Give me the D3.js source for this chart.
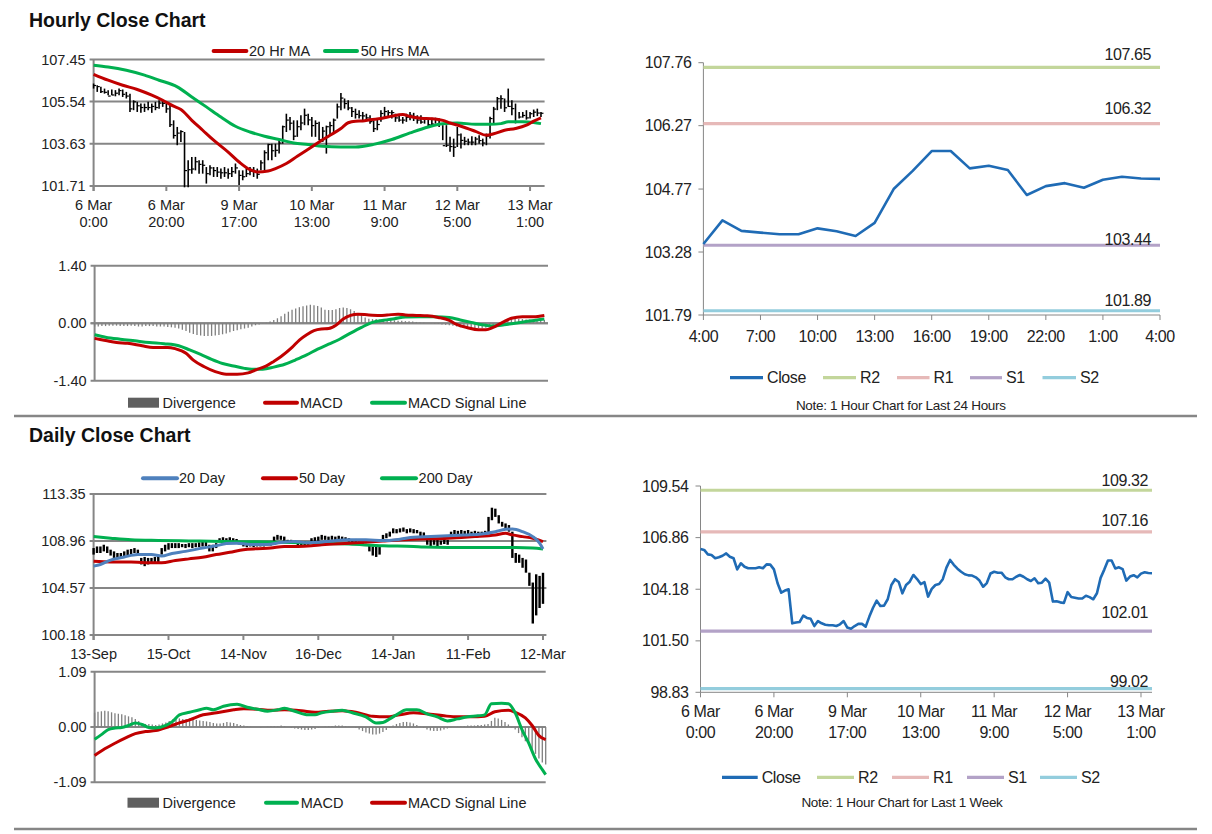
<!DOCTYPE html>
<html>
<head>
<meta charset="utf-8">
<script src="https://cdn.jsdelivr.net/npm/d3@7"></script>
<style>
body { margin: 0; background: #fff; }
text { font-family: "Liberation Sans", Arial, sans-serif; fill: #222; }
.lt { font-size: 14.5px; }
.rt { font-size: 16px; letter-spacing: -0.4px; }
.note { font-size: 13.5px; letter-spacing: -0.3px; }
.title { font-size: 19.5px; font-weight: bold; fill: #111; }
</style>
</head>
<body>
<svg id="chart" width="1212" height="834"></svg>
<script>
// ---- hourly data (last week, 1 hour bars) ----
const hourTickIndex = [0, 20, 40, 60, 80, 100, 120];
const hourTickLabels = [["6 Mar", "0:00"], ["6 Mar", "20:00"], ["9 Mar", "17:00"], ["10 Mar", "13:00"],
                        ["11 Mar", "9:00"], ["12 Mar", "5:00"], ["13 Mar", "1:00"]];

const hourClose = [
  106.27, 106.22, 105.99, 105.96, 105.79, 105.84, 105.92, 106.04, 105.87, 105.79,
  105.21, 105.53, 105.35, 105.27, 105.27, 105.27, 105.32, 105.27, 105.47, 105.46,
  105.21, 104.49, 104.00, 104.11, 104.18, 102.41, 102.45, 102.48, 102.81, 102.69,
  102.65, 102.27, 102.53, 102.41, 102.34, 102.31, 102.31, 102.27, 102.36, 102.53,
  102.19, 102.13, 102.27, 102.38, 102.38, 102.24, 102.76, 103.22, 103.59, 103.31,
  103.33, 103.66, 104.40, 104.70, 104.56, 103.97, 104.40, 104.57, 104.92, 104.71,
  104.45, 104.55, 103.80, 104.20, 104.40, 104.45, 104.70, 105.30, 105.70, 105.45,
  105.25, 105.09, 104.96, 104.90, 104.89, 104.80, 104.63, 104.31, 104.50, 105.00,
  105.09, 105.04, 105.04, 104.80, 104.70, 104.70, 104.83, 104.92, 104.83, 104.70,
  104.61, 104.75, 104.49, 104.52, 104.73, 104.52, 103.54, 103.56, 103.50, 103.47,
  104.03, 103.78, 103.74, 103.70, 103.70, 103.84, 103.77, 103.66, 103.97, 104.77,
  105.20, 105.67, 105.67, 105.26, 105.32, 105.22, 104.63, 104.84, 104.91, 104.80,
  104.99, 105.06, 105.02, 105.01
];
const hourHigh = [
  106.36, 106.28, 106.21, 106.13, 106.06, 106.09, 106.06, 106.13, 106.09, 105.98,
  105.90, 105.60, 105.53, 105.45, 105.45, 105.53, 105.45, 105.53, 105.60, 105.60,
  105.53, 105.45, 104.69, 104.39, 104.24, 104.16, 102.88, 103.03, 103.03, 102.88,
  102.88, 102.57, 102.65, 102.57, 102.57, 102.50, 102.57, 102.50, 102.57, 102.73,
  102.42, 102.42, 102.50, 102.57, 102.57, 102.50, 102.88, 103.33, 103.63, 103.63,
  103.63, 103.79, 104.45, 104.99, 104.84, 104.69, 104.69, 104.92, 105.22, 104.99,
  104.84, 104.69, 104.62, 104.39, 104.45, 104.62, 104.77, 105.45, 105.93, 105.68,
  105.60, 105.30, 105.22, 105.15, 105.07, 104.99, 104.92, 104.69, 104.77, 105.15,
  105.30, 105.15, 105.15, 104.99, 104.92, 104.84, 104.99, 105.07, 105.03, 104.92,
  104.92, 104.84, 104.77, 104.81, 104.81, 104.77, 104.47, 104.47, 103.94, 103.86,
  104.39, 104.09, 103.94, 103.86, 103.97, 103.94, 104.01, 103.86, 104.09, 104.85,
  105.30, 105.75, 105.83, 105.68, 106.13, 105.60, 105.45, 105.07, 105.07, 105.15,
  105.07, 105.18, 105.22, 105.07
];
const hourLow = [
  106.13, 105.98, 105.93, 105.90, 105.83, 105.83, 105.78, 105.83, 105.75, 105.68,
  105.07, 105.15, 105.07, 105.03, 105.07, 105.15, 105.03, 105.15, 105.22, 105.30,
  105.03, 104.39, 103.86, 103.56, 103.71, 101.65, 101.65, 102.27, 102.42, 102.27,
  102.27, 101.82, 102.20, 102.12, 102.12, 102.04, 102.12, 102.04, 102.12, 102.27,
  101.75, 101.97, 102.12, 102.20, 102.12, 102.04, 102.42, 102.42, 102.88, 102.88,
  103.03, 103.18, 103.63, 104.16, 104.24, 103.79, 103.94, 104.24, 104.47, 104.47,
  103.94, 103.94, 103.79, 103.71, 103.18, 104.01, 104.16, 104.77, 105.15, 105.22,
  105.15, 104.84, 104.77, 104.77, 104.69, 104.69, 104.54, 104.16, 104.24, 104.62,
  104.84, 104.84, 104.77, 104.62, 104.62, 104.54, 104.62, 104.69, 104.66, 104.54,
  104.54, 104.54, 104.40, 104.47, 104.54, 104.39, 103.79, 103.48, 103.26, 103.03,
  103.48, 103.41, 103.56, 103.56, 103.56, 103.56, 103.63, 103.51, 103.56, 103.86,
  104.54, 105.15, 105.22, 105.07, 105.30, 104.92, 104.55, 104.77, 104.81, 104.72,
  104.77, 104.84, 104.88, 104.84
];
// moving averages as [hour index, value]
const hourMA20 = [[0,106.78],[4,106.51],[8,106.28],[12,106.09],[16,105.83],[19,105.60],[22,105.33],[24,105.18],
  [27,104.69],[30,104.24],[33,103.79],[37,103.25],[40,102.80],[43,102.45],[45,102.35],[48,102.39],[50,102.50],
  [53,102.73],[56,103.06],[59,103.38],[62,103.71],[65,104.01],[68,104.32],[70,104.58],[72,104.65],[74,104.66],
  [76,104.72],[79,104.77],[82,104.88],[85,104.95],[87,104.86],[90,104.78],[93,104.76],[96,104.69],[98,104.57],
  [101,104.42],[105,104.19],[108,104.01],[110,104.08],[113,104.24],[116,104.32],[119,104.47],[121,104.65],[123,104.80]];
const hourMA50 = [[0,107.19],[4,107.11],[9,106.96],[14,106.74],[18,106.51],[23,106.21],[27,105.75],[31,105.30],
  [35,104.84],[39,104.42],[43,104.16],[47,103.97],[51,103.82],[55,103.66],[59,103.59],[63,103.51],[68,103.48],
  [72,103.48],[77,103.60],[82,103.82],[87,104.12],[92,104.39],[96,104.54],[100,104.57],[105,104.51],[109,104.51],
  [112,104.54],[114,104.62],[118,104.62],[121,104.59],[123,104.54]];
const hourMacd = [[0,-0.37],[3,-0.42],[6,-0.47],[9,-0.49],[13,-0.55],[16,-0.59],[20,-0.59],[22,-0.62],[25,-0.73],
  [27,-0.90],[30,-1.06],[33,-1.18],[36,-1.24],[39,-1.24],[42,-1.21],[44,-1.14],[47,-1.04],[49,-0.93],[51,-0.81],
  [54,-0.59],[56,-0.41],[58,-0.28],[60,-0.18],[62,-0.14],[64,-0.13],[66,-0.05],[68,0.10],[70,0.19],[72,0.22],
  [75,0.20],[78,0.19],[80,0.20],[83,0.22],[85,0.20],[88,0.19],[91,0.18],[94,0.14],[97,0.07],[99,-0.03],
  [102,-0.11],[105,-0.16],[107,-0.16],[109,-0.10],[112,0.04],[114,0.12],[117,0.16],[120,0.16],[123,0.19]];
const hourSignal = [[0,-0.28],[3,-0.34],[7,-0.39],[11,-0.43],[15,-0.47],[19,-0.50],[23,-0.55],[26,-0.65],[29,-0.76],
  [32,-0.88],[35,-0.98],[38,-1.04],[41,-1.10],[43,-1.12],[46,-1.12],[49,-1.07],[52,-1.00],[55,-0.89],[58,-0.77],
  [61,-0.63],[64,-0.51],[67,-0.39],[70,-0.24],[73,-0.10],[76,0.02],[79,0.07],[82,0.11],[85,0.15],[89,0.16],
  [93,0.16],[97,0.14],[100,0.08],[103,0.02],[106,-0.04],[109,-0.07],[112,-0.04],[115,0.00],[118,0.04],[121,0.08],[123,0.10]];
const hourDiv = [
  -0.08, -0.08, -0.07, -0.07, -0.06, -0.06, -0.06, -0.07, -0.07, -0.07,
  -0.06, -0.07, -0.08, -0.08, -0.07, -0.07, -0.07, -0.08, -0.08, -0.08,
  -0.09, -0.10, -0.11, -0.13, -0.16, -0.19, -0.23, -0.26, -0.29, -0.30,
  -0.31, -0.31, -0.31, -0.30, -0.29, -0.27, -0.25, -0.22, -0.19, -0.17,
  -0.15, -0.13, -0.11, -0.08, -0.05, -0.03, -0.01, 0.01, 0.04, 0.08,
  0.12, 0.17, 0.23, 0.28, 0.33, 0.36, 0.39, 0.41, 0.43, 0.45,
  0.44, 0.42, 0.38, 0.33, 0.32, 0.32, 0.34, 0.37, 0.38, 0.37,
  0.34, 0.30, 0.25, 0.19, 0.14, 0.11, 0.10, 0.10, 0.09, 0.09,
  0.08, 0.08, 0.07, 0.06, 0.06, 0.05, 0.05, 0.04, 0.03, 0.02,
  0.01, 0.00, -0.01, -0.02, -0.02, -0.03, -0.04, -0.05, -0.06, -0.08,
  -0.10, -0.11, -0.12, -0.12, -0.12, -0.12, -0.12, -0.11, -0.09, -0.07,
  -0.03, 0.02, 0.06, 0.08, 0.10, 0.10, 0.10, 0.10, 0.09, 0.09,
  0.08, 0.08, 0.08, 0.08
];

// ---- daily data ----
const dayTickIndex = [0, 22, 44, 66, 88, 110, 132];
const dayTickLabels = ["13-Sep", "15-Oct", "14-Nov", "16-Dec", "14-Jan", "11-Feb", "12-Mar"];
const dayHigh = [
  108.30, 108.45, 108.45, 108.61, 108.45, 108.15, 107.99, 107.84, 107.84, 107.99,
  108.15, 108.21, 108.30, 108.15, 107.38, 107.47, 107.38, 107.38, 107.47, 107.60,
  108.30, 108.61, 108.76, 108.76, 108.76, 108.76, 108.68, 108.68, 108.76, 108.76,
  108.76, 108.83, 108.91, 108.91, 108.61, 108.61, 108.76, 109.22, 109.31, 109.22,
  109.31, 109.22, 109.15, 108.91, 108.76, 108.68, 108.76, 108.68, 108.76, 108.68,
  108.76, 108.83, 108.76, 109.37, 109.53, 109.45, 109.37, 109.07, 109.07, 109.00,
  108.91, 108.83, 108.91, 108.76, 109.22, 109.31, 109.37, 109.53, 109.45, 109.37,
  109.45, 109.37, 109.45, 109.37, 109.31, 109.22, 109.07, 109.15, 109.07, 108.99,
  109.07, 108.61, 108.45, 108.61, 108.45, 109.53, 109.68, 109.83, 110.14, 110.07,
  110.14, 110.22, 110.07, 110.14, 110.07, 109.99, 109.83, 109.76, 109.22, 109.07,
  109.15, 109.07, 108.99, 109.15, 109.07, 109.83, 109.99, 109.91, 109.99, 109.91,
  109.99, 109.83, 109.91, 109.83, 109.83, 109.91, 111.21, 112.07, 111.98, 111.37,
  110.75, 110.60, 110.45, 109.83, 107.84, 107.69, 107.38, 107.23, 106.00, 105.08,
  105.85, 105.70, 105.99
];
const dayLow = [
  107.69, 107.84, 107.84, 107.99, 107.84, 107.60, 107.38, 107.38, 107.47, 107.47,
  107.60, 107.69, 107.84, 107.69, 106.77, 106.61, 106.77, 106.92, 106.92, 107.00,
  107.69, 107.99, 108.15, 108.30, 108.30, 108.30, 108.38, 108.30, 108.38, 108.30,
  108.38, 108.38, 108.45, 108.45, 107.99, 107.99, 108.30, 108.91, 108.91, 108.91,
  108.83, 108.91, 108.83, 108.61, 108.45, 108.38, 108.45, 108.38, 108.45, 108.45,
  108.45, 108.53, 108.53, 108.91, 109.07, 109.07, 108.91, 108.76, 108.76, 108.68,
  108.45, 108.45, 108.53, 108.45, 108.76, 108.91, 108.91, 109.07, 109.07, 108.99,
  109.07, 108.99, 109.07, 108.99, 108.99, 108.91, 108.76, 108.76, 108.76, 108.68,
  108.76, 107.99, 107.60, 107.47, 107.69, 109.07, 109.22, 109.37, 109.68, 109.68,
  109.76, 109.83, 109.68, 109.76, 109.68, 109.68, 109.37, 109.37, 108.61, 108.45,
  108.61, 108.45, 108.61, 108.68, 108.61, 109.37, 109.53, 109.53, 109.60, 109.53,
  109.60, 109.53, 109.53, 109.45, 109.53, 109.53, 109.68, 110.90, 111.21, 110.60,
  110.30, 110.14, 109.83, 107.38, 106.92, 106.92, 106.46, 106.00, 104.77, 101.25,
  102.01, 102.70, 103.09
];
const day20 = [[0,106.61],[2,106.77],[5,107.17],[9,107.47],[13,107.69],[17,107.69],[20,107.56],[23,107.80],
  [27,107.99],[32,108.30],[36,108.51],[39,108.72],[42,108.76],[46,108.63],[51,108.63],[55,108.82],[59,108.91],
  [63,108.80],[66,108.84],[70,108.97],[75,109.07],[80,109.07],[85,109.00],[90,109.13],[94,109.31],[99,109.37],
  [104,109.44],[109,109.53],[114,109.62],[118,109.83],[121,110.05],[123,110.08],[126,109.83],[129,109.37],
  [131,108.76],[132,108.21]];
const day50 = [[0,107.07],[5,107.01],[11,107.01],[15,106.92],[20,106.92],[24,107.13],[28,107.29],[32,107.44],
  [36,107.69],[40,107.90],[44,108.15],[48,108.24],[52,108.30],[56,108.45],[60,108.45],[64,108.51],[67,108.61],
  [75,108.76],[85,108.97],[94,109.13],[104,109.22],[112,109.37],[118,109.53],[121,109.68],[123,109.53],
  [126,109.37],[129,109.22],[132,108.91]];
const day200 = [[0,109.37],[5,109.22],[11,109.07],[19,109.01],[28,108.97],[38,108.91],[48,108.88],[58,108.82],
  [66,108.76],[75,108.67],[85,108.51],[94,108.45],[97,108.39],[104,108.36],[114,108.36],[124,108.36],
  [129,108.30],[132,108.21]];
const dayMacd = [[0,-0.24],[2,-0.15],[4,-0.05],[6,-0.02],[8,-0.01],[10,0.03],[12,0.08],[14,0.05],[16,-0.01],
  [18,-0.02],[21,0.03],[23,0.11],[25,0.24],[28,0.29],[31,0.34],[33,0.37],[35,0.34],[38,0.41],[42,0.45],[45,0.39],
  [48,0.35],[51,0.31],[54,0.34],[56,0.37],[59,0.31],[63,0.24],[65,0.24],[67,0.28],[70,0.31],[73,0.33],[76,0.28],
  [80,0.20],[83,0.08],[85,0.09],[87,0.16],[89,0.24],[92,0.34],[95,0.34],[98,0.26],[101,0.20],[104,0.12],
  [107,0.16],[110,0.20],[113,0.22],[115,0.24],[117,0.46],[120,0.47],[122,0.46],[124,0.28],[126,-0.05],
  [128,-0.32],[130,-0.63],[132,-0.84],[133,-0.94]];
const daySignal = [[0,-0.56],[3,-0.43],[6,-0.32],[9,-0.22],[12,-0.13],[15,-0.09],[18,-0.07],[22,0.01],[25,0.08],
  [28,0.14],[32,0.24],[36,0.28],[41,0.34],[44,0.36],[48,0.35],[52,0.33],[56,0.34],[61,0.32],[65,0.29],[69,0.31],
  [73,0.32],[77,0.29],[82,0.21],[86,0.20],[90,0.24],[94,0.28],[98,0.26],[103,0.22],[107,0.20],[111,0.20],
  [115,0.21],[118,0.30],[122,0.33],[124,0.29],[127,0.18],[129,0.03],[131,-0.17],[133,-0.25]];
const dayDiv = [
  0.28, 0.30, 0.31, 0.32, 0.31, 0.29, 0.27, 0.26, 0.25, 0.23,
  0.21, 0.19, 0.16, 0.12, 0.07, 0.06, 0.06, 0.05, 0.04, 0.05,
  0.07, 0.09, 0.12, 0.15, 0.16, 0.17, 0.16, 0.16, 0.17, 0.16,
  0.14, 0.13, 0.12, 0.11, 0.10, 0.08, 0.07, 0.07, 0.08, 0.10,
  0.09, 0.08, 0.06, 0.04, 0.03, 0.02, 0.01, 0.00, 0.00, -0.01,
  0.00, 0.01, 0.02, 0.02, 0.02, 0.03, 0.02, 0.00, -0.02, -0.03,
  -0.04, -0.05, -0.06, -0.06, -0.05, -0.04, -0.02, 0.00, 0.01, 0.02,
  0.02, 0.03, 0.03, 0.03, 0.02, 0.01, 0.00, -0.02, -0.05, -0.08,
  -0.11, -0.13, -0.15, -0.15, -0.13, -0.10, -0.06, -0.02, 0.03, 0.06,
  0.08, 0.10, 0.10, 0.09, 0.07, 0.04, 0.01, -0.02, -0.05, -0.07,
  -0.08, -0.08, -0.07, -0.05, -0.03, -0.01, 0.00, 0.01, 0.02, 0.02,
  0.03, 0.03, 0.03, 0.04, 0.04, 0.05, 0.06, 0.12, 0.18, 0.17,
  0.14, 0.10, 0.05, -0.01, -0.05, -0.12, -0.20, -0.28, -0.36, -0.44,
  -0.53, -0.62, -0.70, -0.74
];

// ---- pivot levels ----
const levelNames = ["R2", "R1", "S1", "S2"];
const levels24h = [107.65, 106.32, 103.44, 101.89];
const levelsWeek = [109.32, 107.16, 102.01, 99.02];
const last24Start = 99;   // first hour of the 24h window inside hourClose
const last24Labels = ["4:00", "7:00", "10:00", "13:00", "16:00", "19:00", "22:00", "1:00", "4:00"];

// ---- axis ticks ----
const hourPriceTicks = [101.71, 103.63, 105.54, 107.45];
const hourMacdTicks = [-1.40, 0.00, 1.40];
const dayPriceTicks = [100.18, 104.57, 108.96, 113.35];
const dayMacdTicks = [-1.09, 0.00, 1.09];
const ticks24h = [101.79, 103.28, 104.77, 106.27, 107.76];
const ticksWeek = [98.83, 101.50, 104.18, 106.86, 109.54];

// ---- styling ----
const GRID = "#868686";
const RED = "#c00000", GREEN = "#00b050", BLUE = "#4f81bd", CLOSE = "#1f6bb5";
const levelColors = ["#c3d69b", "#e6b9b8", "#b3a2c7", "#93cddd"];

const svg = d3.select("#chart");
svg.append("rect").attr("width", 1212).attr("height", 834).attr("fill", "#fff");

const smooth = (x, y) => d3.line().x(d => x(d[0])).y(d => y(d[1])).curve(d3.curveMonotoneX);

// frame with gray gridlines used by the left hand charts
function leftFrame(o) {
  const x = d3.scaleLinear().domain(o.xDomain).range([o.x0, o.x1]);
  const y = d3.scaleLinear().domain(d3.extent(o.ticks)).range([o.yb, o.yt]);
  const g = svg.append("g");
  g.selectAll("line.grid").data(o.ticks).join("line")
    .attr("x1", o.x0 - 4).attr("x2", o.x1)
    .attr("y1", d => y(d)).attr("y2", d => y(d))
    .attr("stroke", GRID).attr("stroke-width", 2);
  if (o.zero) {
    g.append("line").attr("x1", o.x0 - 4).attr("x2", o.x1).attr("y1", y(0)).attr("y2", y(0))
      .attr("stroke", GRID).attr("stroke-width", 2);
  }
  g.append("line").attr("x1", o.x0).attr("x2", o.x0).attr("y1", o.yt).attr("y2", o.yb + (o.xTicks ? 5 : 0))
    .attr("stroke", GRID).attr("stroke-width", 2);
  g.selectAll("text.yl").data(o.ticks).join("text")
    .attr("class", "lt").attr("x", o.x0 - 8).attr("y", d => y(d)).attr("dy", "0.35em")
    .attr("text-anchor", "end").text(d => d.toFixed(2));
  if (o.xTicks) {
    g.selectAll("line.xt").data(o.xTicks).join("line")
      .attr("x1", d => x(d)).attr("x2", d => x(d)).attr("y1", o.yb).attr("y2", o.yb + 5)
      .attr("stroke", GRID).attr("stroke-width", 2);
    o.xTicks.forEach((t, i) => {
      const lab = [].concat(o.xLabels[i]);
      lab.forEach((s, j) => g.append("text").attr("class", "lt")
        .attr("x", x(t)).attr("y", o.yb + 24 + j * 17).attr("text-anchor", "middle").text(s));
    });
  }
  return { x, y, g };
}

function ohlcBars(f, hi, lo, close, w) {
  f.g.selectAll("line.bar").data(hi).join("line")
    .attr("x1", (d, i) => f.x(i)).attr("x2", (d, i) => f.x(i))
    .attr("y1", d => f.y(d)).attr("y2", (d, i) => f.y(lo[i]))
    .attr("stroke", "#000").attr("stroke-width", w);
  if (close) {
    f.g.selectAll("line.cl").data(close).join("line")
      .attr("x1", (d, i) => f.x(i)).attr("x2", (d, i) => f.x(i) + 2.5)
      .attr("y1", d => f.y(d)).attr("y2", d => f.y(d))
      .attr("stroke", "#000").attr("stroke-width", 1.2);
  }
}

function series(f, pts, color, w) {
  f.g.append("path").datum(pts).attr("d", smooth(f.x, f.y))
    .attr("fill", "none").attr("stroke", color).attr("stroke-width", w || 3).attr("stroke-linejoin", "round");
}

function divergence(f, vals) {
  f.g.selectAll("line.dv").data(vals).join("line")
    .attr("x1", (d, i) => f.x(i)).attr("x2", (d, i) => f.x(i))
    .attr("y1", f.y(0)).attr("y2", d => f.y(d))
    .attr("stroke", "#7f7f7f").attr("stroke-width", 1.3);
}

function legend(items, yc, cls) {
  const g = svg.append("g");
  items.forEach(it => {
    if (it.rect) {
      g.append("rect").attr("x", it.a).attr("y", yc - 5).attr("width", it.b - it.a).attr("height", 10).attr("fill", "#5f5f5f");
    } else {
      g.append("line").attr("x1", it.a).attr("x2", it.b).attr("y1", yc).attr("y2", yc)
        .attr("stroke", it.color).attr("stroke-width", 4).attr("stroke-linecap", "round");
    }
    g.append("text").attr("class", cls).attr("x", it.t).attr("y", yc).attr("dy", "0.35em").text(it.label);
  });
}

// ================= Hourly close chart =================
svg.append("text").attr("class", "title").attr("x", 29).attr("y", 27).text("Hourly Close Chart");

const hp = leftFrame({ xDomain: [0, 124], x0: 93.6, x1: 544.6, yt: 59.5, yb: 186,
  ticks: hourPriceTicks, xTicks: hourTickIndex, xLabels: hourTickLabels });
ohlcBars(hp, hourHigh, hourLow, hourClose, 1.6);
series(hp, hourMA50, GREEN);
series(hp, hourMA20, RED);
legend([{ a: 213.6, b: 246.4, t: 249, color: RED, label: "20 Hr MA" },
        { a: 325, b: 357, t: 360.7, color: GREEN, label: "50 Hrs MA" }], 51, "lt");

const hm = leftFrame({ xDomain: [0, 124], x0: 94.6, x1: 548, yt: 265.7, yb: 380.7, ticks: hourMacdTicks, zero: true });
divergence(hm, hourDiv);
series(hm, hourSignal, GREEN);
series(hm, hourMacd, RED);
legend([{ rect: true, a: 128, b: 159, t: 162.5, label: "Divergence" },
        { a: 265, b: 297, t: 300, color: RED, label: "MACD" },
        { a: 372, b: 405, t: 408, color: GREEN, label: "MACD Signal Line" }], 402.7, "lt");

// ================= Daily close chart =================
svg.append("text").attr("class", "title").attr("x", 29).attr("y", 442).text("Daily Close Chart");

const dp = leftFrame({ xDomain: [0, 133], x0: 93.6, x1: 546.4, yt: 494, yb: 635,
  ticks: dayPriceTicks, xTicks: dayTickIndex, xLabels: dayTickLabels });
ohlcBars(dp, dayHigh, dayLow, null, 2.4);
series(dp, day200, GREEN);
series(dp, day50, RED);
series(dp, day20, BLUE);
legend([{ a: 143, b: 177, t: 179, color: BLUE, label: "20 Day" },
        { a: 263, b: 296, t: 299, color: RED, label: "50 Day" },
        { a: 382, b: 416, t: 418.6, color: GREEN, label: "200 Day" }], 478.3, "lt");

const dm = leftFrame({ xDomain: [0, 133], x0: 94.6, x1: 545.7, yt: 671.7, yb: 782.3, ticks: dayMacdTicks, zero: true });
divergence(dm, dayDiv);
series(dm, daySignal, RED);
series(dm, dayMacd, GREEN);
legend([{ rect: true, a: 127.5, b: 159, t: 162.5, label: "Divergence" },
        { a: 266, b: 297, t: 300.7, color: GREEN, label: "MACD" },
        { a: 372, b: 405, t: 408, color: RED, label: "MACD Signal Line" }], 802.7, "lt");

// ================= Right hand pivot charts =================
function pivotChart(o) {
  const x = d3.scaleLinear().domain(o.xDomain).range([o.x0, o.x1]);
  const y = d3.scaleLinear().domain(d3.extent(o.ticks)).range([o.yb, o.yt]);
  const g = svg.append("g");
  g.append("line").attr("x1", o.x0).attr("x2", o.x0).attr("y1", o.yt).attr("y2", o.yb).attr("stroke", GRID);
  g.append("line").attr("x1", o.x0).attr("x2", o.x1).attr("y1", o.yb).attr("y2", o.yb).attr("stroke", GRID);
  g.selectAll("line.yt").data(o.ticks).join("line")
    .attr("x1", o.x0 - 5).attr("x2", o.x0).attr("y1", d => y(d)).attr("y2", d => y(d)).attr("stroke", GRID);
  g.selectAll("text.yl").data(o.ticks).join("text").attr("class", "rt")
    .attr("x", o.x0 - 12).attr("y", d => y(d)).attr("dy", "0.35em").attr("text-anchor", "end").text(d => d.toFixed(2));
  g.selectAll("line.xt").data(o.xTicks).join("line")
    .attr("x1", d => x(d)).attr("x2", d => x(d)).attr("y1", o.yb).attr("y2", o.yb + 5).attr("stroke", GRID);
  o.xTicks.forEach((t, i) => {
    [].concat(o.xLabels[i]).forEach((s, j) => g.append("text").attr("class", "rt")
      .attr("x", x(t)).attr("y", o.yb + o.labelGap + j * 20.5).attr("text-anchor", "middle").text(s));
  });
  // pivot levels
  o.levels.forEach((v, i) => {
    g.append("line").attr("x1", o.x0).attr("x2", o.x1).attr("y1", y(v)).attr("y2", y(v))
      .attr("stroke", levelColors[i]).attr("stroke-width", 3.2);
  });
  g.append("path").datum(o.close)
    .attr("d", d3.line().x((d, i) => x(i)).y(d => y(d)))
    .attr("fill", "none").attr("stroke", CLOSE).attr("stroke-width", 2.6).attr("stroke-linejoin", "round");
  o.levels.forEach((v, i) => {
    g.append("text").attr("class", "rt").attr("x", o.labelX).attr("y", y(v) + o.labelDy[i])
      .attr("text-anchor", "end").text(v.toFixed(2));
  });
  // legend
  const items = [{ color: CLOSE, label: "Close" }].concat(levelNames.map((n, i) => ({ color: levelColors[i], label: n })));
  items.forEach((it, i) => {
    const a = o.legend[i];
    g.append("line").attr("x1", a[0]).attr("x2", a[1]).attr("y1", o.legendY).attr("y2", o.legendY)
      .attr("stroke", it.color).attr("stroke-width", 3.2);
    g.append("text").attr("class", "rt").attr("x", a[1] + 4).attr("y", o.legendY).attr("dy", "0.35em").text(it.label);
  });
  g.append("text").attr("class", "note").attr("x", o.noteX).attr("y", o.noteY).attr("dy", "0.35em")
    .attr("text-anchor", "middle").text(o.note);
}

pivotChart({
  xDomain: [0, 24], x0: 703.4, x1: 1160, yt: 62.7, yb: 315, ticks: ticks24h,
  xTicks: d3.range(0, 25, 3), xLabels: last24Labels, labelGap: 27,
  levels: levels24h, close: hourClose.slice(last24Start),
  labelX: 1151, labelDy: [-7, -10, 0, -5],
  legendY: 377.7, legend: [[730, 763], [823, 856], [897, 929.5], [970, 1002], [1042.5, 1076]],
  noteX: 900.8, noteY: 405.7, note: "Note: 1 Hour Chart for Last 24 Hours"
});

pivotChart({
  xDomain: [0, 123], x0: 700.5, x1: 1152, yt: 486, yb: 692.3, ticks: ticksWeek,
  xTicks: hourTickIndex, xLabels: hourTickLabels, labelGap: 25,
  levels: levelsWeek, close: hourClose,
  labelX: 1148, labelDy: [-4, -6, -13, -2],
  legendY: 777.3, legend: [[722, 757.7], [817, 854], [892, 929], [967, 1004], [1040, 1077]],
  noteX: 902, noteY: 802.7, note: "Note: 1 Hour Chart for Last 1 Week"
});

// section separators
[416, 829].forEach(yy => svg.append("line").attr("x1", 14).attr("x2", 1197).attr("y1", yy).attr("y2", yy)
  .attr("stroke", GRID).attr("stroke-width", 2.5));
</script>
</body>
</html>
